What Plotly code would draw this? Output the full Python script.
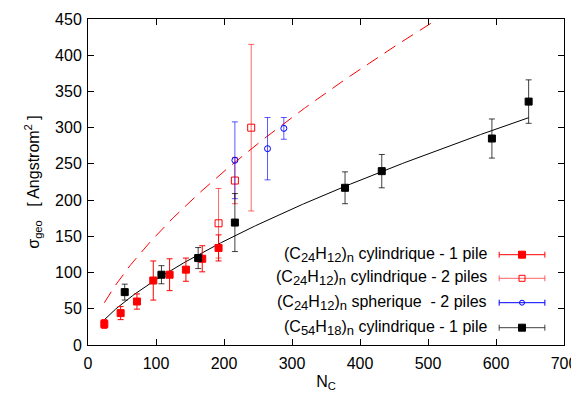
import plotly.graph_objects as go

# ---- data ----
nc_cyl1 = [24, 48, 72, 96, 120, 144, 168, 192]
sig_cyl1 = [29, 44, 60, 89, 97, 104, 119, 134]
err_cyl1 = [6, 9, 10.5, 27, 22, 16, 18, 18]

nc_cyl2 = [192, 216, 240]
sig_cyl2 = [168, 227, 300]
err_cyl2 = [48, 32, 115]

nc_sph2 = [216, 264, 288]
sig_sph2 = [255, 271, 299]
err_sph2 = [53, 43, 15]

nc_c54 = [54, 108, 162, 216, 378, 432, 594, 648]
sig_c54 = [73, 97, 120, 169, 217, 240, 285, 336]
err_c54 = [11, 12.5, 14.5, 40, 22, 23, 27, 30]

# fitted power laws sigma = a * N^(2/3)
fit_exp = 2.0 / 3.0
fit_a_c54 = 4.19
fit_a_c24 = 7.01
fit_n_min = 24
fit_n_max_c54 = 648

def sb(t):
    return "<sub><span style='font-size:13px'>%s</span></sub>" % t

legend_labels = [
    "(C" + sb("24") + "H" + sb("12") + ")" + sb("n") + " cylindrique - 1 pile",
    "(C" + sb("24") + "H" + sb("12") + ")" + sb("n") + " cylindrique - 2 piles",
    "(C" + sb("24") + "H" + sb("12") + ")" + sb("n") + " spherique\u00a0 - 2 piles",
    "(C" + sb("54") + "H" + sb("18") + ")" + sb("n") + " cylindrique - 1 pile",
]

FONT = "Liberation Sans, Arial, sans-serif"
FS = 16
RED = "#ff0000"
RED2 = "rgba(255,0,0,0.6)"
BLUE = "#0000ff"
BLUE2 = "rgba(0,0,255,0.65)"
BLACK = "#000000"
BLACK2 = "rgba(0,0,0,0.75)"

fig = go.Figure()

# fit curves
ns = [fit_n_min + i * (fit_n_max_c54 - fit_n_min) / 300 for i in range(301)]
fig.add_trace(go.Scatter(x=ns, y=[fit_a_c54 * n ** fit_exp for n in ns], mode="lines",
                         line=dict(color=BLACK, width=1), showlegend=False, hoverinfo="skip"))
n_top = (450 / fit_a_c24) ** (1 / fit_exp)
ns2 = [fit_n_min + i * (n_top - fit_n_min) / 300 for i in range(301)]
fig.add_trace(go.Scatter(x=ns2, y=[fit_a_c24 * n ** fit_exp for n in ns2], mode="lines",
                         line=dict(color=RED, width=1, dash="13px,8px"), showlegend=False, hoverinfo="skip"))

def add_series(x, y, e, sym, size, col, ecol):
    fig.add_trace(go.Scatter(
        x=x, y=y, mode="markers",
        marker=dict(symbol=sym, size=size, color=col, line=dict(color=col, width=1)),
        error_y=dict(type="data", array=e, visible=True, color=ecol, thickness=1, width=3),
        showlegend=False))

add_series(nc_cyl1, sig_cyl1, err_cyl1, "square", 7, RED, RED)
add_series(nc_cyl2, sig_cyl2, err_cyl2, "square-open", 7, RED, RED2)
add_series(nc_sph2, sig_sph2, err_sph2, "circle-open", 6, BLUE, BLUE2)
add_series(nc_c54, sig_c54, err_c54, "square", 7, BLACK, BLACK2)

# custom legend (text on left, key on right) in paper-like overlay axes
rows_y = [0.277, 0.2046, 0.1298, 0.0531]
key_x = 0.9118
key_half = 0.048
styles = [("square", 7, RED, RED), ("square-open", 6, RED, RED2),
          ("circle-open", 5, BLUE, BLUE), ("square", 7, BLACK, BLACK2)]
for lab, yy, (sym, size, col, ecol) in zip(legend_labels, rows_y, styles):
    fig.add_annotation(x=0.8424, y=yy, xref="paper", yref="paper", text=lab,
                       showarrow=False, xanchor="right", yanchor="middle",
                       font=dict(family=FONT, size=FS, color="#000"))
    fig.add_trace(go.Scatter(
        x=[key_x], y=[yy], xaxis="x2", yaxis="y2", mode="markers",
        marker=dict(symbol=sym, size=size, color=col, line=dict(color=col, width=1)),
        error_x=dict(type="constant", value=key_half, color=ecol, thickness=1, width=3),
        showlegend=False, hoverinfo="skip"))

axis_common = dict(showline=True, linecolor="black", linewidth=1, mirror="ticks",
                   ticks="inside", ticklen=6, tickcolor="black", showgrid=False,
                   zeroline=False, automargin=False,
                   tickfont=dict(family=FONT, size=FS, color="#000"))

# page body adds an 8px offset; figure sized to fit the 579x394 window
fig.update_layout(
    width=571, height=386,
    margin=dict(l=80, r=15, t=11, b=49),
    paper_bgcolor="white", plot_bgcolor="white",
    font=dict(family=FONT, size=FS, color="#000"),
    xaxis=dict(range=[0, 700], dtick=100, ticklabelstandoff=4,
               title=dict(text="N<sub>C</sub>", standoff=4, font=dict(family=FONT, size=FS)),
               **axis_common),
    yaxis=dict(range=[0, 450], dtick=50, ticklabelstandoff=2,
               title=dict(text="σ<sub>geo</sub>   [ Angstrom<sup>2</sup> ]", standoff=11,
                          font=dict(family=FONT, size=FS)),
               **axis_common),
    xaxis2=dict(range=[0, 1], overlaying="x", visible=False, fixedrange=True),
    yaxis2=dict(range=[0, 1], overlaying="y", visible=False, fixedrange=True),
    showlegend=False,
)

fig.write_html("out.html")
